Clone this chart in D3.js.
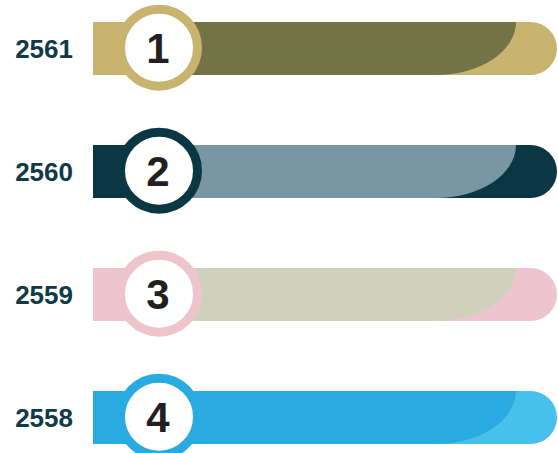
<!DOCTYPE html>
<html>
<head>
<meta charset="utf-8">
<script src="https://cdn.jsdelivr.net/npm/d3@7"></script>
<style>
  html, body { margin: 0; padding: 0; background: #ffffff; }
  svg { display: block; }
</style>
</head>
<body>
<svg id="chart" width="558" height="453"></svg>
<script>
// Data
const years = ["2561", "2560", "2559", "2558"];
const ranks = [1, 2, 3, 4];
const values = [100, 100, 100, 100];
const ringColors = ["#c8b46e", "#0b3644", "#eec5cf", "#29abe2"];
const overlayColors = ["#747247", "#7896a3", "#d0d1bd", "#29abe2"];
const endColors = ["#c8b46e", "#0b3644", "#eec5cf", "#47c0ec"];

const svg = d3.select("#chart");
const W = 558, H = 453;

const y = d3.scalePoint().domain(years).range([48.5, 417.5]);
const x = d3.scaleLinear().domain([0, 100]).range([93, 557]);

const barH = 53;
const circleX = 159;
const ringOuter = 43, ringInner = 34;
const ringW = ringOuter - ringInner;

const rows = years.map((yr, i) => ({
  year: yr, rank: ranks[i], value: values[i],
  ring: ringColors[i], overlay: overlayColors[i], end: endColors[i]
}));

const g = svg.selectAll("g.row").data(rows).join("g").attr("class", "row");

// full bar with rounded right end (end colour)
g.append("path")
  .attr("fill", d => d.end)
  .attr("d", d => {
    const x0 = x(0), x1 = x(d.value), cy = y(d.year);
    const t = cy - barH / 2, b = cy + barH / 2, r = barH / 2;
    return `M${x0},${t} L${x1 - r},${t} A${r},${r} 0 0 1 ${x1 - r},${b} L${x0},${b} Z`;
  });

// overlay with elliptic right edge
g.append("path")
  .attr("fill", d => d.overlay)
  .attr("d", d => {
    const x0 = x(0), x1 = x(d.value), cy = y(d.year);
    const t = cy - barH / 2, b = cy + barH / 2;
    const topX = x1 - 41, rx = 80;
    return `M${x0},${t} L${topX},${t} A${rx},${barH} 0 0 1 ${topX - rx},${b} L${x0},${b} Z`;
  });

// left stub in ring colour
g.append("rect")
  .attr("fill", d => d.ring)
  .attr("x", x(0))
  .attr("y", d => y(d.year) - barH / 2)
  .attr("width", circleX - x(0))
  .attr("height", barH);

// ring circle
g.append("circle")
  .attr("cx", circleX)
  .attr("cy", d => y(d.year) - 0.8)
  .attr("r", ringInner + ringW / 2)
  .attr("fill", "#ffffff")
  .attr("stroke", d => d.ring)
  .attr("stroke-width", ringW);

// rank numbers
g.append("text")
  .attr("x", circleX - 1)
  .attr("y", d => y(d.year) - 0.8 + 15)
  .attr("text-anchor", "middle")
  .attr("font-family", "Liberation Sans, Arial, sans-serif")
  .attr("font-weight", "bold")
  .attr("font-size", 42)
  .attr("fill", "#231f20")
  .text(d => d.rank);

// year labels
g.append("text")
  .attr("x", 73)
  .attr("y", d => y(d.year) + 9.5)
  .attr("text-anchor", "end")
  .attr("font-family", "Liberation Sans, Arial, sans-serif")
  .attr("font-weight", "bold")
  .attr("font-size", 26)
  .attr("fill", "#0f3a47")
  .text(d => d.year);
</script>
</body>
</html>
